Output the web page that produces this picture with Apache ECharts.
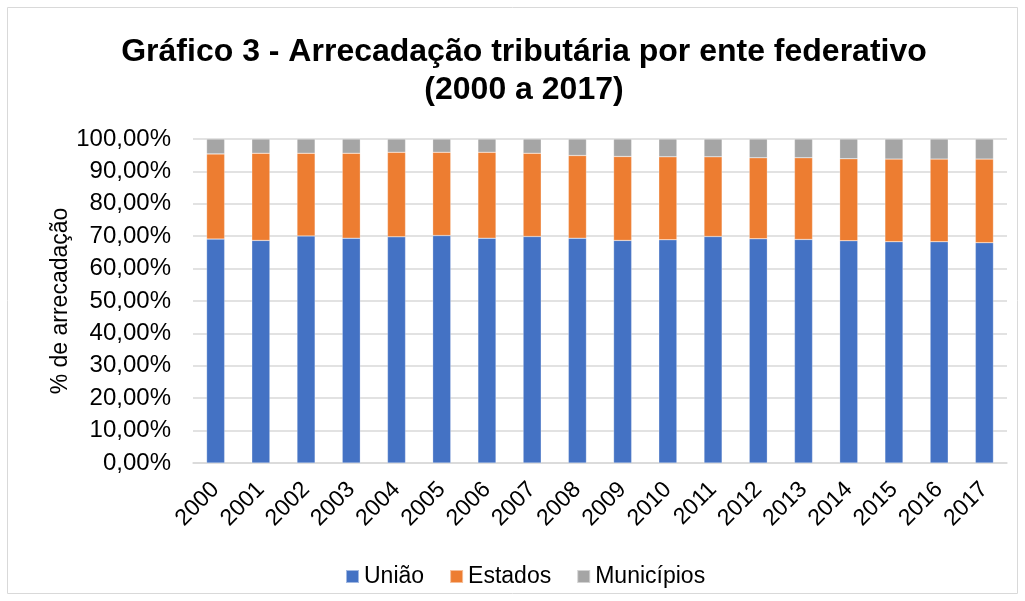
<!DOCTYPE html>
<html>
<head>
<meta charset="utf-8">
<script src="https://cdn.jsdelivr.net/npm/echarts@6/dist/echarts.min.js"></script>
<style>
  html, body { margin: 0; padding: 0; background: #fff; }
  #chart { width: 1025px; height: 601px; }
</style>
</head>
<body>
<div id="chart"></div>
<script>
const years = ["2000", "2001", "2002", "2003", "2004", "2005", "2006", "2007", "2008",
    "2009", "2010", "2011", "2012", "2013", "2014", "2015", "2016", "2017"];
const uniao = [69.1, 68.7, 70.1, 69.4, 69.8, 70.2, 69.4, 69.9, 69.4,
    68.7, 68.9, 69.9, 69.2, 69.0, 68.6, 68.3, 68.3, 68.0];
const estados = [26.3, 26.9, 25.5, 26.2, 26.1, 25.7, 26.5, 25.7, 25.5,
    25.9, 25.6, 24.6, 25.0, 25.2, 25.3, 25.5, 25.5, 25.8];
const municipios = [4.6, 4.4, 4.4, 4.4, 4.1, 4.1, 4.1, 4.4, 5.1,
    5.4, 5.5, 5.5, 5.8, 5.8, 6.1, 6.2, 6.2, 6.2];

const font = "Arial, 'Liberation Sans', sans-serif";
const fmt = v => v.toFixed(2).replace(".", ",") + "%";

const chart = echarts.init(document.getElementById("chart"));

const bar = (name, data, color) => ({
    name: name,
    type: "bar",
    stack: "total",
    barWidth: "40%",
    data: data,
    itemStyle: { color: color, borderColor: "rgba(255,255,255,0.5)", borderWidth: 0.5 }
});

chart.setOption({
    animation: false,
    textStyle: { fontFamily: font },
    title: {
        text: "Gráfico 3 - Arrecadação tributária por ente federativo\n(2000 a 2017)",
        left: 519,
        textAlign: "center",
        top: 28,
        textStyle: { fontSize: 32, fontWeight: "bold", color: "#000", lineHeight: 38, fontFamily: font }
    },
    graphic: [{
        type: "rect",
        shape: { x: 7.5, y: 7.5, width: 1010, height: 586 },
        style: { fill: "none", stroke: "#d9d9d9", lineWidth: 1 }
    }],
    legend: {
        top: 560,
        left: 340,
        itemWidth: 13,
        itemHeight: 13,
        itemGap: 25,
        icon: "rect",
        textStyle: { fontSize: 23, color: "#000", fontFamily: font }
    },
    grid: { left: 193, right: 18, top: 139, bottom: 138 },
    xAxis: {
        type: "category",
        data: years,
        axisLine: { lineStyle: { color: "#d9d9d9", width: 1.5 } },
        axisTick: { show: false },
        axisLabel: { rotate: 45, fontSize: 23, color: "#000", margin: 23, fontFamily: font }
    },
    yAxis: {
        type: "value",
        min: 0,
        max: 100,
        interval: 10,
        name: "% de arrecadação",
        nameLocation: "middle",
        nameGap: 121,
        nameMoveOverlap: false,
        nameTextStyle: { fontSize: 23, color: "#000", fontFamily: font },
        axisLine: { show: false },
        axisTick: { show: false },
        splitLine: { lineStyle: { color: "#d9d9d9", width: 1.5 } },
        axisLabel: { formatter: fmt, fontSize: 24, color: "#000", margin: 22, fontFamily: font }
    },
    series: [
        bar("União", uniao, "#4472C4"),
        bar("Estados", estados, "#ED7D31"),
        bar("Municípios", municipios, "#A5A5A5")
    ]
});
</script>
</body>
</html>
